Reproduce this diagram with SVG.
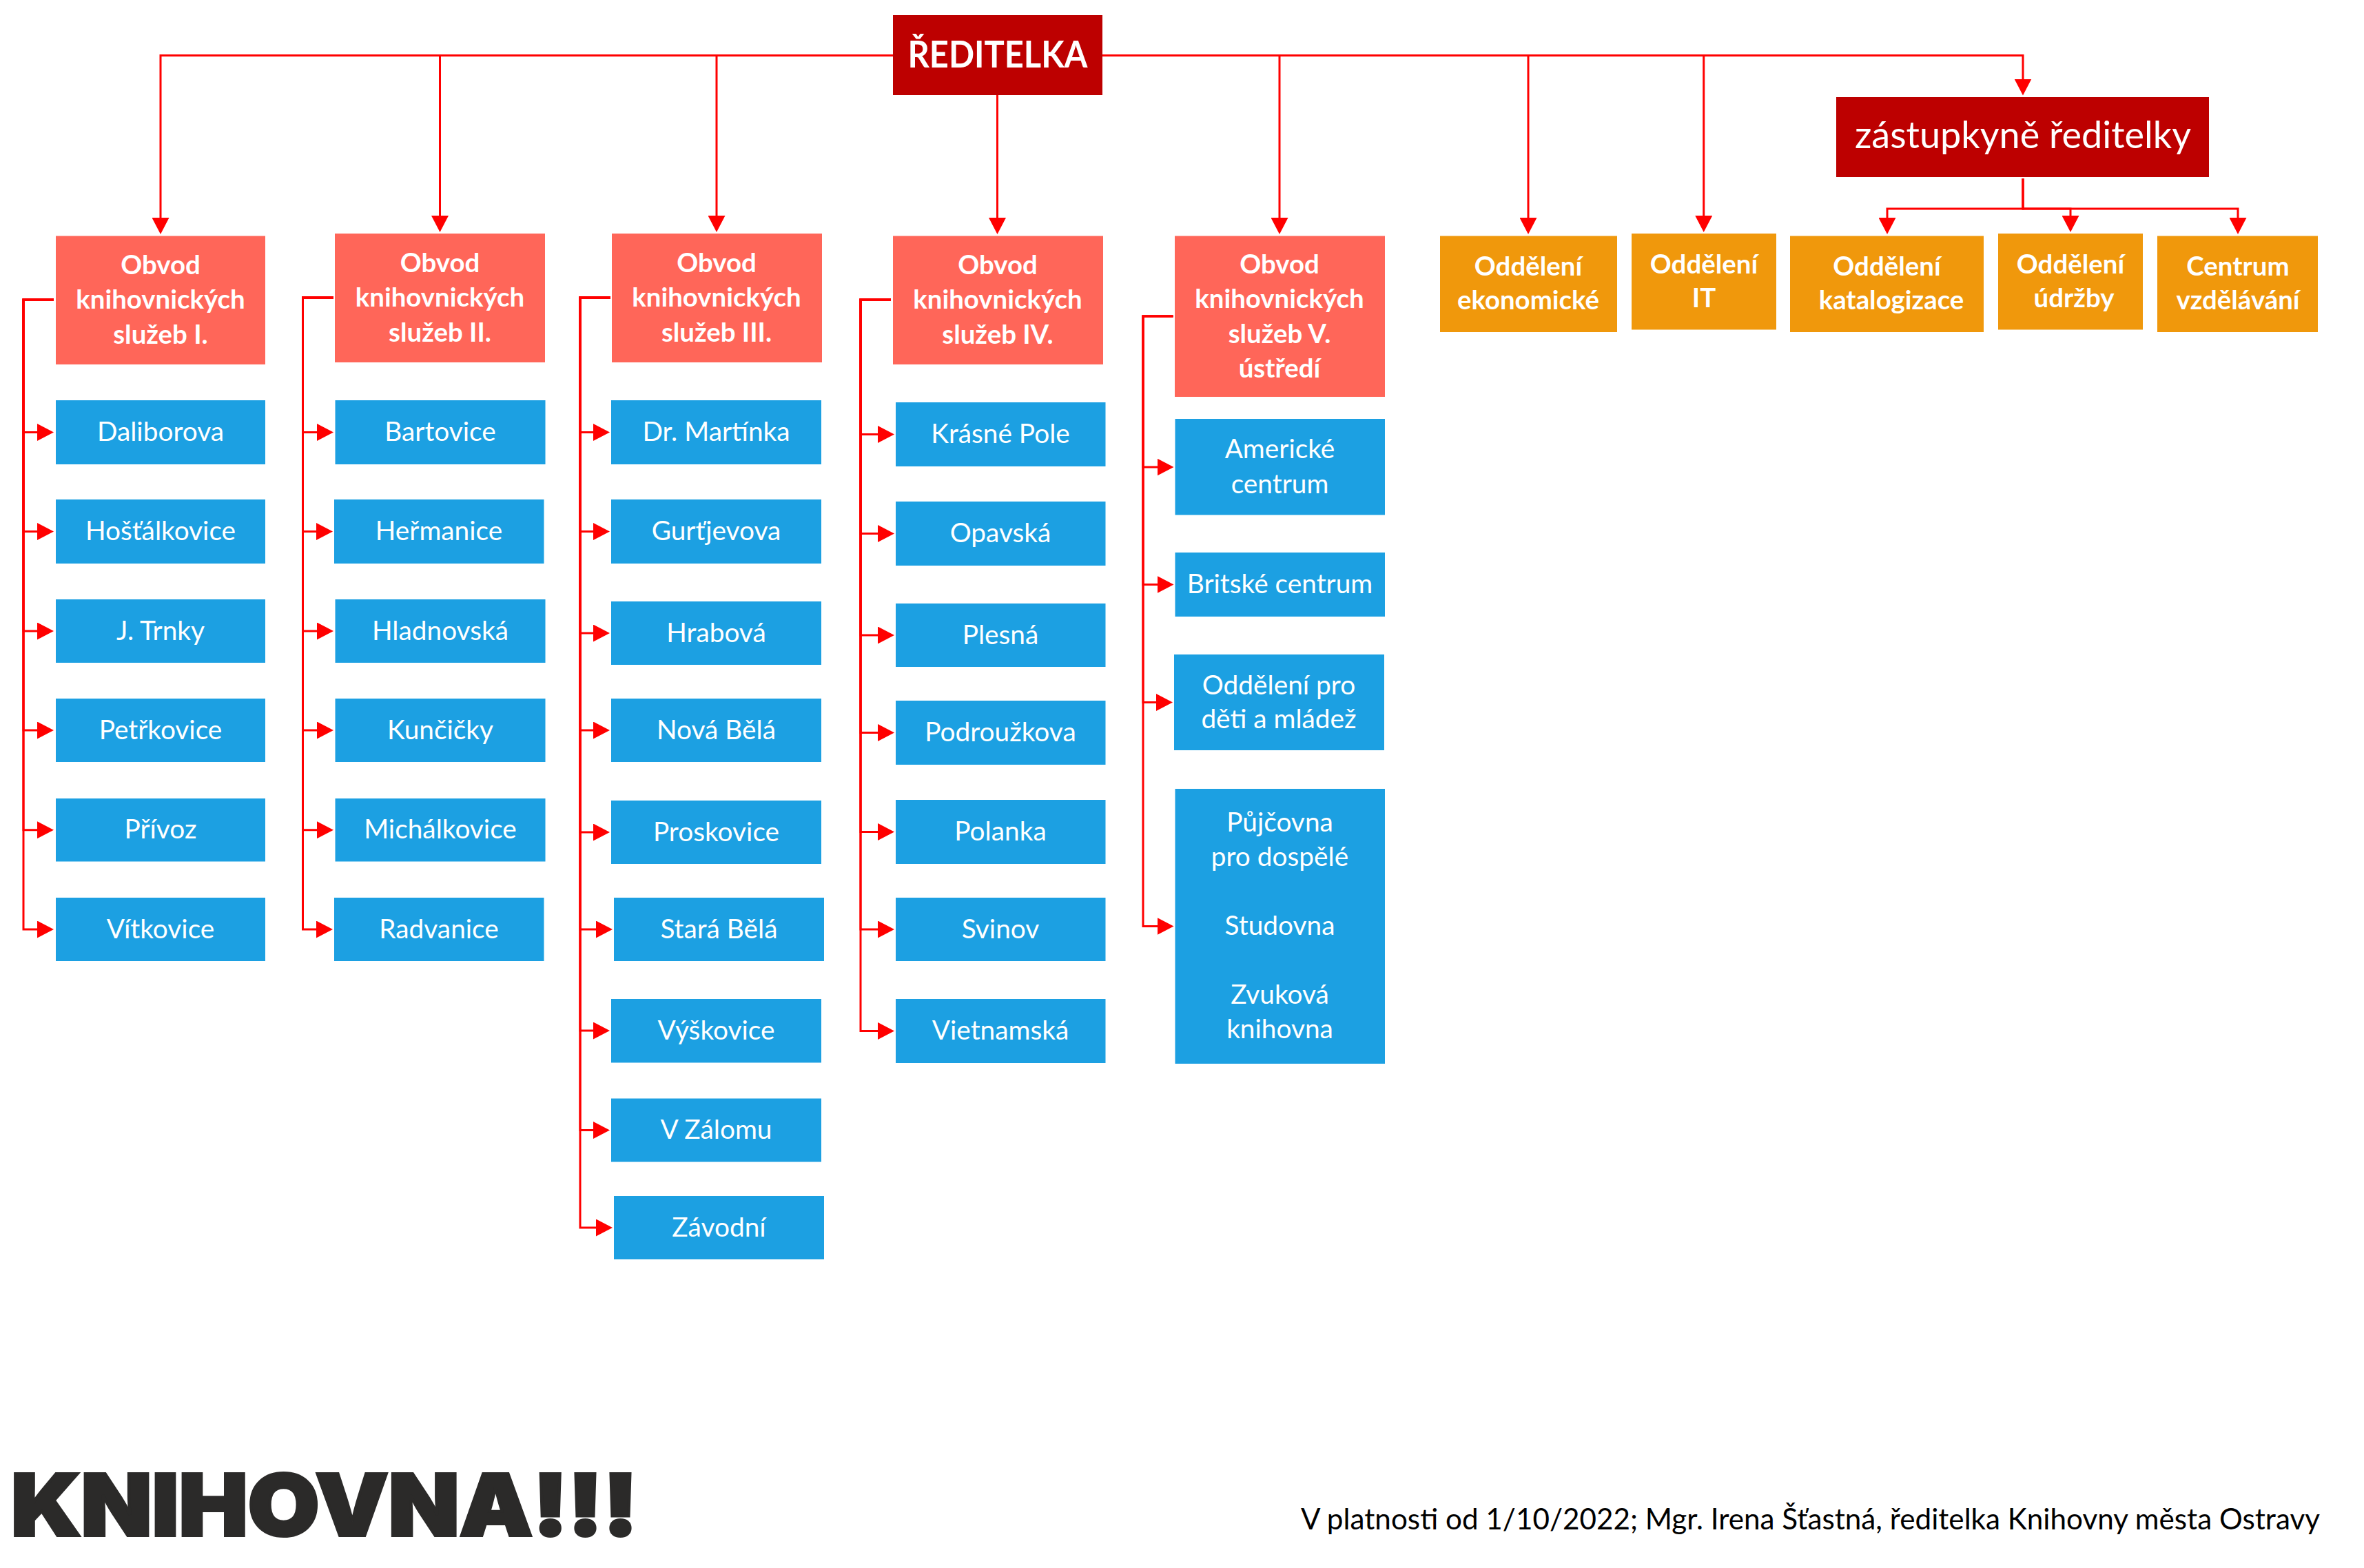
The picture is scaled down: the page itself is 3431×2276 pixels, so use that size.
<svg xmlns="http://www.w3.org/2000/svg" width="3431" height="2276" viewBox="0 0 3431 2276">
<style>
.dark{fill:#bd0000}
.sal{fill:#ff6659}
.blue{fill:#1ca0e2}
.org{fill:#f0980c}
text{font-family:"Lato","Carlito","Liberation Sans",sans-serif;fill:#fff;text-anchor:middle;font-size:38.8px}
.b{font-weight:700;font-size:38.4px}
.c path{fill:none;stroke:#f00;stroke-width:3;marker-end:url(#ah)}
</style>
<defs><marker id="ah" markerUnits="userSpaceOnUse" viewBox="0 0 24 25" refX="2" refY="12.5" markerWidth="24" markerHeight="25" orient="auto"><path d="M0 0L24 12.5L0 25Z" fill="#f00"/></marker></defs>
<rect width="3431" height="2276" fill="#fff"/>
<g id="connectors" class="c">
<path d="M1296 80.5H233V318"/>
<path d="M1296 80.5H638.5V315"/>
<path d="M1296 80.5H1040V315"/>
<path d="M1447.5 138V318"/>
<path d="M1600 80.5H1857V318"/>
<path d="M1600 80.5H2218V318"/>
<path d="M1600 80.5H2472.7V315"/>
<path d="M1600 80.5H2936V116.500"/>
<path d="M2936 259V303H2739V318"/>
<path d="M2936 259V303H3005V315"/>
<path d="M2936 259V303H3248V318"/>
<path d="M78 435H34V627.500H56"/>
<path d="M78 435H34V771.500H56"/>
<path d="M78 435H34V916H56"/>
<path d="M78 435H34V1060H56"/>
<path d="M78 435H34V1204.700H56"/>
<path d="M78 435H34V1349H56"/>
<path d="M484 432H439.500V627.500H462"/>
<path d="M484 432H439.500V771.500H461"/>
<path d="M484 432H439.500V916H462"/>
<path d="M484 432H439.500V1060H462"/>
<path d="M484 432H439.500V1204.700H462"/>
<path d="M484 432H439.500V1349H461"/>
<path d="M886 432H842V627.500H863"/>
<path d="M886 432H842V771.500H863"/>
<path d="M886 432H842V919H863"/>
<path d="M886 432H842V1060H863"/>
<path d="M886 432H842V1208H863"/>
<path d="M886 432H842V1349H867"/>
<path d="M886 432H842V1496H863"/>
<path d="M886 432H842V1640.500H863"/>
<path d="M886 432H842V1782H867"/>
<path d="M1293 435H1249V630.500H1276"/>
<path d="M1293 435H1249V774.500H1276"/>
<path d="M1293 435H1249V922H1276"/>
<path d="M1293 435H1249V1063.500H1276"/>
<path d="M1293 435H1249V1207.500H1276"/>
<path d="M1293 435H1249V1349H1276"/>
<path d="M1293 435H1249V1496.500H1276"/>
<path d="M1702.500 459H1659V678H1681.500"/>
<path d="M1702.500 459H1659V848.500H1681.500"/>
<path d="M1702.500 459H1659V1019.500H1680"/>
<path d="M1702.500 459H1659V1344.500H1681.500"/>
</g>
<g id="reditelka"><rect class="dark" x="1296" y="22" width="304" height="116"/><text class="b" x="1448" y="98" textLength="261" lengthAdjust="spacingAndGlyphs" style="font-size:53px">ŘEDITELKA</text></g>
<g id="zastupkyne"><rect class="dark" x="2665" y="141" width="541" height="116"/><text x="2936" y="215" style="font-size:54px">zástupkyně ředitelky</text></g>

<g id="obvod1"><rect class="sal" x="81" y="342.500" width="304" height="186.500"/><text class="b" x="233" y="397.500">Obvod</text><text class="b" x="233" y="447.500">knihovnických</text><text class="b" x="233" y="498.500">služeb I.</text></g>
<g id="obvod2"><rect class="sal" x="486" y="339" width="305" height="187"/><text class="b" x="638.500" y="394.500">Obvod</text><text class="b" x="638.500" y="444.500">knihovnických</text><text class="b" x="638.500" y="495.500">služeb II.</text></g>
<g id="obvod3"><rect class="sal" x="888" y="339" width="305" height="187"/><text class="b" x="1040" y="394.500">Obvod</text><text class="b" x="1040" y="444.500">knihovnických</text><text class="b" x="1040" y="495.500">služeb III.</text></g>
<g id="obvod4"><rect class="sal" x="1296" y="342.500" width="305" height="186.500"/><text class="b" x="1448" y="397.500">Obvod</text><text class="b" x="1448" y="447.500">knihovnických</text><text class="b" x="1448" y="498.500">služeb IV.</text></g>
<g id="obvod5"><rect class="sal" x="1705" y="342.500" width="305" height="233.500"/><text class="b" x="1857" y="396.500">Obvod</text><text class="b" x="1857" y="446.500">knihovnických</text><text class="b" x="1857" y="497.500">služeb V.</text><text class="b" x="1857" y="547.500">ústředí</text></g>

<g id="ekonomicke"><rect class="org" x="2090" y="342.500" width="257" height="139.500"/><text class="b" x="2218" y="399.500">Oddělení</text><text class="b" x="2218" y="449">ekonomické</text></g>
<g id="it"><rect class="org" x="2368" y="339" width="210" height="139.500"/><text class="b" x="2473" y="396.500">Oddělení</text><text class="b" x="2473" y="446">IT</text></g>
<g id="katalogizace"><rect class="org" x="2598" y="342.500" width="281" height="139.500"/><text class="b" x="2738.500" y="399.500">Oddělení</text><text class="b" x="2745" y="449">katalogizace</text></g>
<g id="udrzby"><rect class="org" x="2900" y="339" width="210" height="139.500"/><text class="b" x="3005" y="396.500">Oddělení</text><text class="b" x="3010" y="446">údržby</text></g>
<g id="centrum"><rect class="org" x="3131" y="342.500" width="233" height="139.500"/><text class="b" x="3248" y="399.500">Centrum</text><text class="b" x="3248" y="449">vzdělávání</text></g>

<g id="daliborova"><rect class="blue" x="81" y="581" width="304" height="93"/><text x="233" y="640">Daliborova</text></g>
<g id="hostalkovice"><rect class="blue" x="81" y="725" width="304" height="93"/><text x="233" y="784">Hošťálkovice</text></g>
<g id="trnky"><rect class="blue" x="81" y="870" width="304" height="92"/><text x="233" y="928.500">J. Trnky</text></g>
<g id="petrkovice"><rect class="blue" x="81" y="1014" width="304" height="92"/><text x="233" y="1072.500">Petřkovice</text></g>
<g id="privoz"><rect class="blue" x="81" y="1159" width="304" height="91.500"/><text x="233" y="1217">Přívoz</text></g>
<g id="vitkovice"><rect class="blue" x="81" y="1303" width="304" height="92"/><text x="233" y="1361.500">Vítkovice</text></g>

<g id="bartovice"><rect class="blue" x="486.500" y="581" width="305" height="93"/><text x="639" y="640">Bartovice</text></g>
<g id="hermanice"><rect class="blue" x="485" y="725" width="304.500" height="93"/><text x="637" y="784">Heřmanice</text></g>
<g id="hladnovska"><rect class="blue" x="486.500" y="870" width="305" height="92"/><text x="639" y="928.500">Hladnovská</text></g>
<g id="kuncicky"><rect class="blue" x="486.500" y="1014" width="305" height="92"/><text x="639" y="1072.500">Kunčičky</text></g>
<g id="michalkovice"><rect class="blue" x="486.500" y="1159" width="305" height="91.500"/><text x="639" y="1217">Michálkovice</text></g>
<g id="radvanice"><rect class="blue" x="485" y="1303" width="304.500" height="92"/><text x="637" y="1361.500">Radvanice</text></g>

<g id="martinka"><rect class="blue" x="887" y="581" width="305" height="93"/><text x="1039.500" y="640">Dr. Martínka</text></g>
<g id="gurtjevova"><rect class="blue" x="887" y="725" width="305" height="93"/><text x="1039.500" y="784">Gurťjevova</text></g>
<g id="hrabova"><rect class="blue" x="887" y="873" width="305" height="92"/><text x="1039.500" y="931.500">Hrabová</text></g>
<g id="novabela"><rect class="blue" x="887" y="1014" width="305" height="92"/><text x="1039.500" y="1072.500">Nová Bělá</text></g>
<g id="proskovice"><rect class="blue" x="887" y="1162" width="305" height="92"/><text x="1039.500" y="1220.500">Proskovice</text></g>
<g id="starabela"><rect class="blue" x="891" y="1303" width="305" height="92"/><text x="1043.500" y="1361.500">Stará Bělá</text></g>
<g id="vyskovice"><rect class="blue" x="887" y="1450" width="305" height="92.500"/><text x="1039.500" y="1508.500">Výškovice</text></g>
<g id="vzalomu"><rect class="blue" x="887" y="1594.500" width="305" height="92"/><text x="1039.500" y="1653">V Zálomu</text></g>
<g id="zavodni"><rect class="blue" x="891" y="1736" width="305" height="92"/><text x="1043.500" y="1794.500">Závodní</text></g>

<g id="krasnepole"><rect class="blue" x="1300" y="584" width="304.500" height="93"/><text x="1452" y="643">Krásné Pole</text></g>
<g id="opavska"><rect class="blue" x="1300" y="728" width="304.500" height="93"/><text x="1452" y="787">Opavská</text></g>
<g id="plesna"><rect class="blue" x="1300" y="876" width="304.500" height="92"/><text x="1452" y="934.500">Plesná</text></g>
<g id="podrouzkova"><rect class="blue" x="1300" y="1017" width="304.500" height="93"/><text x="1452" y="1076">Podroužkova</text></g>
<g id="polanka"><rect class="blue" x="1300" y="1161" width="304.500" height="93"/><text x="1452" y="1220">Polanka</text></g>
<g id="svinov"><rect class="blue" x="1300" y="1303" width="304.500" height="92"/><text x="1452" y="1361.500">Svinov</text></g>
<g id="vietnamska"><rect class="blue" x="1300" y="1450" width="304.500" height="93"/><text x="1452" y="1509">Vietnamská</text></g>

<g id="americke"><rect class="blue" x="1705.500" y="608" width="304.500" height="139.500"/><text x="1857.500" y="665">Americké</text><text x="1857.500" y="715.500">centrum</text></g>
<g id="britske"><rect class="blue" x="1705.500" y="802" width="304.500" height="93"/><text x="1857.500" y="861">Britské centrum</text></g>
<g id="deti"><rect class="blue" x="1704" y="950" width="305" height="139"/><text x="1856" y="1007.500">Oddělení pro</text><text x="1856" y="1057">děti a mládež</text></g>
<g id="pujcovna"><rect class="blue" x="1705.500" y="1145" width="304.500" height="399"/><text x="1857.500" y="1207">Půjčovna</text><text x="1857.500" y="1257">pro dospělé</text><text x="1857.500" y="1357">Studovna</text><text x="1857.500" y="1457">Zvuková</text><text x="1857.500" y="1507">knihovna</text></g>

<text x="471" y="2229" textLength="910" lengthAdjust="spacingAndGlyphs" style="font-family:Inter,'Liberation Sans',sans-serif;font-weight:900;font-size:124px;fill:#2b2a29;stroke:#2b2a29;stroke-width:4">KNIHOVNA!!!</text>
<text x="2627.500" y="2220" textLength="1479" lengthAdjust="spacingAndGlyphs" style="font-size:42.5px;fill:#000">V platnosti od 1/10/2022; Mgr. Irena Šťastná, ředitelka Knihovny města Ostravy</text>
</svg>
